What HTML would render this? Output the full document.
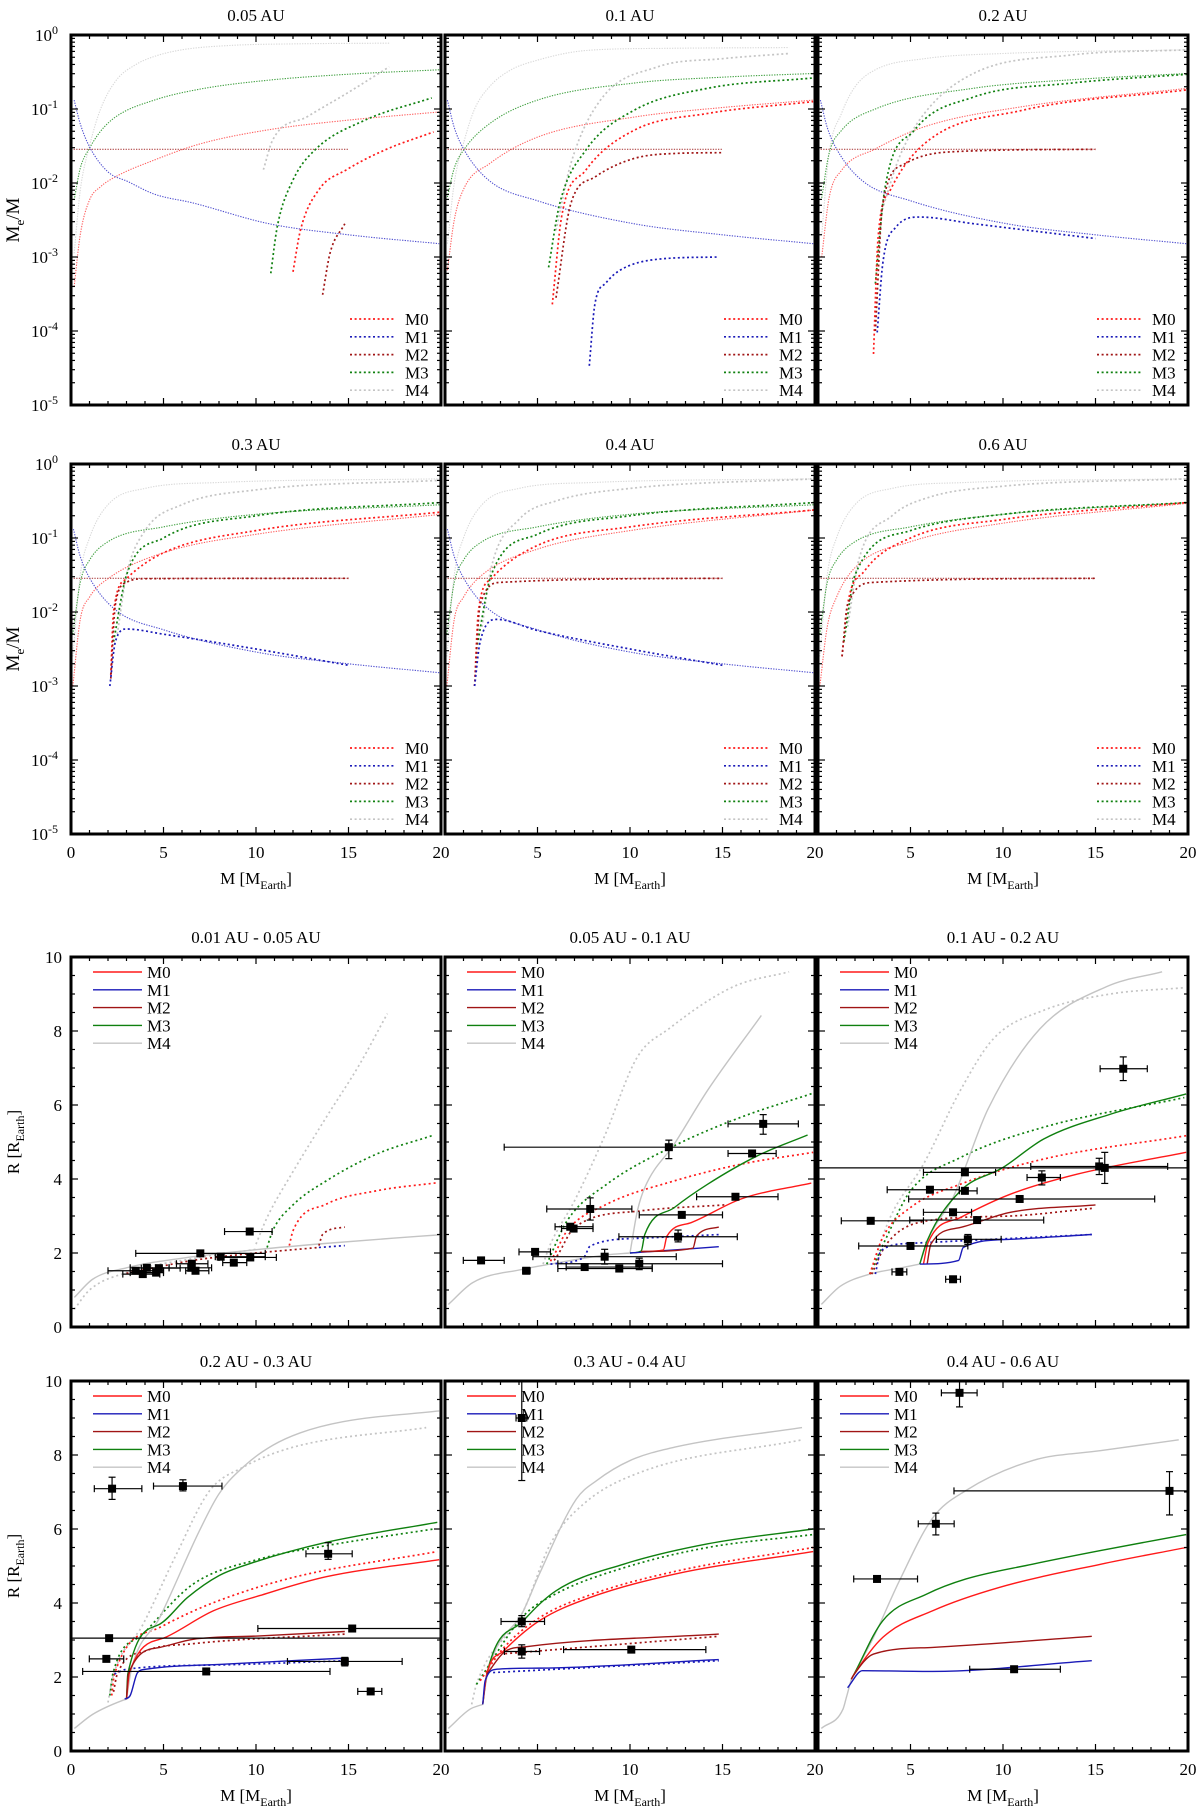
<!DOCTYPE html>
<html><head><meta charset="utf-8">
<style>
html,body{margin:0;padding:0;background:#fff;}
svg{display:block;font-family:"Liberation Serif",serif;}
</style></head>
<body>
<svg id="fig" width="1200" height="1806" viewBox="0 0 1200 1806" xmlns="http://www.w3.org/2000/svg"></svg>
<script>
// ---------- data ----------
const topTitles = ["0.05 AU","0.1 AU","0.2 AU","0.3 AU","0.4 AU","0.6 AU"];
const botTitles = ["0.01 AU - 0.05 AU","0.05 AU - 0.1 AU","0.1 AU - 0.2 AU","0.2 AU - 0.3 AU","0.3 AU - 0.4 AU","0.4 AU -  0.6 AU"];
const models = ["M0","M1","M2","M3","M4"];
const topYTicks = [0,-1,-2,-3,-4,-5];
const botYTicks = [0,2,4,6,8,10];
const xTicks = [0,5,10,15,20];

// top panels: log10(Me/M)
const t0_M4f=[[0.17,-2.95],[0.5,-2.1],[1,-1.5],[1.6,-1.0],[2.45,-0.61],[3.5,-0.4],[4.5,-0.29],[6,-0.2],[8.7,-0.14],[12,-0.12],[17.2,-0.11]];
const t0_M3f=[[0.17,-2.23],[0.5,-1.8],[1,-1.53],[1.6,-1.3],[2.45,-1.1],[4.5,-0.88],[7,-0.73],[10.7,-0.61],[15,-0.53],[19.9,-0.47]];
const t0_M0f=[[0.17,-3.4],[0.5,-2.7],[1,-2.23],[1.6,-2.05],[2.45,-1.91],[4.5,-1.69],[7,-1.47],[10.7,-1.28],[15,-1.15],[19.9,-1.04]];
const t0_M1f=[[0.17,-0.88],[0.5,-1.2],[1,-1.51],[2,-1.85],[3.07,-1.98],[4.5,-2.15],[6.6,-2.27],[10.7,-2.55],[15,-2.7],[19.9,-2.82]];
const t0_M2f=[[0,-1.545],[15,-1.545]];
const t0_M4c=[[10.4,-1.82],[10.9,-1.42],[12.8,-1.1],[14.9,-0.79],[17.2,-0.43]];
const t0_M3c=[[10.8,-3.22],[11.15,-2.59],[12,-1.96],[13.2,-1.55],[15.9,-1.15],[19.5,-0.85]];
const t0_M0c=[[12,-3.2],[12.4,-2.64],[13.4,-2.09],[14.9,-1.82],[17,-1.55],[19.6,-1.31]];
const t0_M2c=[[13.6,-3.51],[14,-2.95],[14.8,-2.55]];

const t1_M4f=[[0.13,-2.82],[0.5,-2.0],[1.05,-1.42],[1.6,-1.0],[2.4,-0.7],[3.5,-0.48],[5,-0.34],[7.6,-0.21],[12,-0.18],[18.6,-0.17]];
const t1_M3f=[[0.13,-2.19],[0.5,-1.8],[1.05,-1.54],[2.4,-1.2],[5,-0.88],[10.2,-0.65],[15,-0.57],[19.9,-0.52]];
const t1_M0f=[[0.13,-3.18],[0.5,-2.5],[1.05,-2.06],[2.4,-1.74],[5,-1.38],[10.2,-1.11],[15,-0.98],[19.9,-0.88]];
const t1_M1f=[[0.13,-0.88],[0.5,-1.25],[1.05,-1.56],[2.4,-1.97],[5,-2.24],[10.2,-2.55],[15,-2.7],[19.9,-2.82]];
const t1_M2f=[[0,-1.545],[15,-1.545]];
const t1_M4c=[[6,-2.64],[6.8,-1.74],[8.4,-0.88],[11.5,-0.43],[15,-0.32],[18.6,-0.25]];
const t1_M3c=[[5.6,-3.14],[6.2,-2.28],[7.6,-1.56],[10.2,-1.02],[14.2,-0.72],[19.9,-0.58]];
const t1_M0c=[[5.8,-3.64],[6.3,-2.46],[7.6,-1.83],[10.2,-1.29],[14.2,-1.06],[19.9,-0.9]];
const t1_M2c=[[6,-3.55],[6.8,-2.28],[8.1,-1.92],[10.2,-1.67],[12.5,-1.6],[15,-1.59]];
const t1_M1c=[[7.8,-4.47],[8.1,-3.64],[8.7,-3.35],[9.45,-3.18],[11.5,-3.03],[14.8,-3.0]];

const t2_M4f=[[0.2,-2.7],[0.6,-1.6],[1.27,-1.06],[2,-0.7],[3.1,-0.47],[5.75,-0.32],[10,-0.25],[20,-0.2]];
const t2_M3f=[[0.2,-2.2],[0.6,-1.6],[1.27,-1.29],[3.1,-1.0],[8.4,-0.72],[14,-0.6],[20,-0.52]];
const t2_M0f=[[0.2,-3.0],[0.6,-2.2],[1.27,-1.83],[3.1,-1.54],[5.75,-1.24],[11,-0.97],[20,-0.72]];
const t2_M1f=[[0.13,-0.88],[0.5,-1.25],[1.05,-1.56],[2.4,-1.97],[5,-2.24],[10.2,-2.55],[15,-2.7],[19.9,-2.82]];
const t2_M2f=[[0,-1.545],[15,-1.545]];
const t2_M0c=[[3,-4.31],[3.25,-2.73],[3.9,-2.1],[5.75,-1.47],[11,-1.02],[20,-0.74]];
const t2_M2c=[[3.1,-4.0],[3.5,-2.28],[4.7,-1.74],[7.1,-1.58],[15,-1.545]];
const t2_M3c=[[3.1,-3.36],[3.6,-2.1],[5.2,-1.29],[8.4,-0.84],[13.7,-0.65],[20,-0.53]];
const t2_M4c=[[3.4,-2.42],[4.4,-1.65],[5.75,-1.06],[8.4,-0.52],[13.7,-0.27],[20,-0.2]];
const t2_M1c=[[3.2,-4.02],[3.5,-3.09],[4.2,-2.6],[5.5,-2.46],[8.4,-2.55],[15,-2.75]];

const t3_M4f=[[0.1,-2.6],[0.5,-1.5],[1,-1.0],[2,-0.55],[4,-0.33],[8,-0.25],[20,-0.2]];
const t3_M3f=[[0.1,-2.3],[0.5,-1.6],[1,-1.3],[2,-1.05],[5,-0.85],[10,-0.68],[20,-0.55]];
const t3_M0f=[[0.1,-3.0],[0.5,-2.1],[1,-1.8],[2,-1.55],[5,-1.2],[10,-0.95],[20,-0.68]];
const t3_M1f=[[0.13,-0.88],[0.5,-1.25],[1.05,-1.56],[2.4,-1.97],[5,-2.24],[10.2,-2.55],[15,-2.7],[19.9,-2.82]];
const t3_M2f=[[0,-1.545],[15,-1.545]];
const t3_M0c=[[2.15,-2.85],[2.3,-2.0],[3,-1.55],[5,-1.2],[10,-0.9],[20,-0.65]];
const t3_M2c=[[2.15,-2.9],[2.4,-1.9],[3,-1.6],[4,-1.55],[15,-1.545]];
const t3_M3c=[[2.3,-2.4],[3,-1.5],[5,-1.0],[10,-0.7],[20,-0.52]];
const t3_M4c=[[2.5,-2.3],[3,-1.5],[4,-0.9],[6,-0.55],[10,-0.35],[20,-0.22]];
const t3_M1c=[[2.1,-3.0],[2.4,-2.4],[3,-2.23],[5,-2.3],[10,-2.5],[15,-2.72]];

const t4_M4f=[[0.1,-2.6],[0.5,-1.5],[1,-1.0],[2,-0.55],[4,-0.33],[8,-0.25],[20,-0.2]];
const t4_M3f=[[0.1,-2.3],[0.5,-1.6],[1,-1.3],[2,-1.05],[5,-0.85],[10,-0.68],[20,-0.55]];
const t4_M0f=[[0.1,-3.0],[0.5,-2.1],[1,-1.8],[2,-1.5],[5,-1.15],[10,-0.9],[20,-0.62]];
const t4_M1f=[[0.13,-0.88],[0.5,-1.25],[1.05,-1.56],[2.4,-1.97],[5,-2.24],[10.2,-2.55],[15,-2.7],[19.9,-2.82]];
const t4_M2f=[[0,-1.545],[15,-1.545]];
const t4_M0c=[[1.6,-3.0],[1.8,-2.0],[2.5,-1.55],[5,-1.1],[10,-0.85],[20,-0.62]];
const t4_M2c=[[1.6,-3.0],[1.9,-1.9],[3,-1.6],[15,-1.545]];
const t4_M3c=[[1.7,-2.5],[2.5,-1.5],[5,-0.95],[10,-0.7],[20,-0.52]];
const t4_M4c=[[2,-2.2],[2.5,-1.4],[4,-0.75],[6,-0.5],[10,-0.33],[20,-0.2]];
const t4_M1c=[[1.6,-3.0],[1.9,-2.4],[2.8,-2.1],[5,-2.25],[10,-2.5],[15,-2.72]];

const t5_M4f=[[0.1,-2.6],[0.5,-1.5],[1,-1.0],[2,-0.55],[4,-0.33],[8,-0.25],[20,-0.2]];
const t5_M3f=[[0.1,-2.3],[0.5,-1.6],[1,-1.3],[2,-1.05],[5,-0.85],[10,-0.68],[20,-0.52]];
const t5_M0f=[[0.1,-3.0],[0.5,-2.2],[1,-1.8],[2,-1.4],[5,-1.05],[10,-0.8],[20,-0.53]];
const t5_M2f=[[0,-1.545],[15,-1.545]];
const t5_M0c=[[1.3,-2.6],[1.6,-1.9],[2.5,-1.45],[5,-1.0],[10,-0.75],[20,-0.52]];
const t5_M2c=[[1.3,-2.6],[1.6,-1.9],[3,-1.6],[15,-1.545]];
const t5_M3c=[[1.4,-2.4],[2,-1.5],[5,-0.9],[10,-0.68],[20,-0.52]];
const t5_M4c=[[1.6,-2.2],[2.2,-1.3],[4,-0.7],[6,-0.45],[10,-0.3],[20,-0.2]];

// bottom panels: R [R_Earth]
const b0_base=[[0.18,0.8],[1.17,1.29],[3,1.6],[6.6,1.9],[10.2,2.1],[13.8,2.26],[17.4,2.4],[19.9,2.49]];
const b0_baseDot=[[0.18,0.48],[1,1.0],[3,1.47],[6.6,1.85],[10,2.1]];
const b0_M4d=[[10,2.24],[10.6,2.96],[12,4.2],[13.8,5.67],[15.6,7.1],[17.1,8.47]];
const b0_M3d=[[10.6,2.15],[10.9,2.6],[12,3.3],[13.8,3.95],[16.5,4.67],[19.5,5.17]];
const b0_M0d=[[11.8,2.2],[12,2.6],[13.8,3.32],[16.5,3.68],[19.8,3.9]];
const b0_M2d=[[13.4,2.2],[13.6,2.5],[14.8,2.7]];
const b0_M1d=[[13.4,2.15],[14.8,2.2]];
const b0_M2dLow=[[3,1.45],[6.6,1.8],[9,1.95],[13.4,2.15]];
const b0_obs=[[9.66,2.58,8.3,10.87],[6.99,1.99,3.5,10.5],[8.09,1.9,7.8,10.5],[9.69,1.88,8.0,11.1],[8.8,1.74,8.2,9.5],[6.53,1.71,5.7,7.4],[6.5,1.6,5.3,7.6],[6.73,1.52,6.2,7.45],[4.1,1.6,3.2,5.3],[4.75,1.59,3.8,5.9],[3.5,1.52,2,5],[3.88,1.43,2.8,4.8],[4.6,1.47,3.2,5.0]];

const b1_base=[[0.18,0.61],[1.5,1.2],[4.2,1.56],[5.7,1.7],[8.75,1.95],[10,2.0]];
const b1_M4s=[[10,2.0],[10.4,3.14],[10.8,3.77],[12.4,4.95],[14.2,6.4],[17.1,8.42]];
const b1_M3s=[[10,2.0],[10.6,2.05],[10.8,2.5],[12.4,3.23],[14.2,3.86],[16.9,4.63],[19.6,5.19]];
const b1_M0s=[[10.6,2.04],[11.8,2.08],[12,2.46],[13.3,2.82],[16,3.46],[19.8,3.89]];
const b1_M2s=[[10.6,2.04],[13.4,2.13],[13.6,2.46],[14.8,2.7]];
const b1_M1s=[[10,2.0],[12,2.07],[14.8,2.17]];
const b1_M4d=[[5.3,1.7],[5.7,2.24],[7,3.41],[8.6,5.13],[10.4,7.3],[12.1,8.06],[15.6,9.2],[18.6,9.6]];
const b1_M3d=[[5.5,1.7],[6.6,2.87],[8.75,3.86],[12.4,4.9],[16,5.67],[19.9,6.32]];
const b1_M0d=[[5.7,1.78],[5.9,1.95],[6.6,2.6],[8.75,3.32],[12.4,3.95],[16,4.4],[19.9,4.72]];
const b1_M2d=[[5.9,1.8],[6.1,1.95],[7,2.69],[10.6,3.14],[15.1,3.3]];
const b1_M1d=[[5.7,1.7],[7.5,1.88],[7.85,2.19],[10.6,2.4],[14.9,2.5]];
const b1_obs=[[1.95,1.8,0.99,3.2],[4.39,1.52,4.2,4.6],[4.87,2.03,4.0,5.7],[6.77,2.71,5.95,8.0],[6.95,2.66,6.3,8.0],[7.85,3.19,5.5,10.1,2.89,3.49],[8.63,1.9,4.75,12.5,1.7,2.1],[7.55,1.62,6.55,11.2],[9.42,1.58,6.1,11.2],[10.5,1.71,6.1,15.0,1.55,1.86],[12.1,4.86,3.2,25,4.55,5.05],[12.8,3.03,10.5,15],[12.6,2.44,9.4,15.8,2.3,2.62],[15.7,3.52,13.6,18],[16.6,4.69,15.3,17.9],[17.2,5.49,15.3,19.1,5.21,5.74]];

const b2_base=[[0.18,0.61],[1.2,1.1],[2.8,1.43],[4.5,1.6],[5.5,1.7]];
const b2_M4s=[[5.5,1.7],[6,2.42],[7.3,3.5],[9.2,5.9],[12,8.06],[15.6,9.2],[18.6,9.6]];
const b2_M3s=[[5.5,1.7],[5.9,2.33],[7.7,3.68],[10,4.31],[12.2,5.08],[15.8,5.75],[19.9,6.3]];
const b2_M0s=[[5.7,1.7],[5.95,2.28],[7.7,2.96],[10.4,3.59],[14,4.13],[19.9,4.72]];
const b2_M2s=[[5.9,1.7],[6.1,2.24],[7.7,2.69],[10.4,3.1],[15,3.3]];
const b2_M1s=[[5.5,1.7],[7.6,1.8],[7.85,2.15],[10.4,2.37],[14.8,2.5]];
const b2_M4d=[[2.8,1.43],[3.9,2.96],[5.7,4.4],[7.7,6.4],[9.5,7.8],[12.2,8.56],[15.8,9.0],[19.8,9.17]];
const b2_M3d=[[2.8,1.43],[3.7,2.42],[5,3.68],[7.7,4.58],[12.2,5.4],[19.8,6.2]];
const b2_M0d=[[2.8,1.43],[3.5,2.42],[5,3.23],[7.7,3.86],[12.2,4.54],[19.9,5.17]];
const b2_M2d=[[2.9,1.43],[3.7,2.24],[5.9,2.87],[10.4,3.0],[14.9,3.21]];
const b2_M1d=[[3.1,1.43],[3.4,2.06],[5,2.26],[8.6,2.35],[14.8,2.5]];
const b2_obs=[[16.5,6.98,15.25,17.8,6.66,7.3],[7.94,4.18,5.7,9.6],[6.05,3.71,3.74,7.64],[7.94,3.68,7.64,8.6],[7.3,3.1,5.7,8.3],[2.85,2.87,1.26,5.7],[8.6,2.89,4.96,12.2],[10.9,3.46,4.9,18.2],[12.1,4.04,11.3,13.1,3.84,4.22],[15.2,4.34,11.5,18.9,4.12,4.56],[15.5,4.3,0,25,3.88,4.72],[8.1,2.37,6.4,9.9,2.23,2.5],[5.0,2.19,2.2,8.1],[4.4,1.49,4.0,4.8],[7.3,1.29,6.9,7.7]];

const b3_base=[[0.18,0.61],[1.17,0.99],[2.8,1.37],[3,1.4]];
const b3_M4s=[[3,1.4],[3.25,2.17],[4.8,3.61],[6.95,5.96],[8,6.95],[9.5,7.76],[10.9,8.26],[12.4,8.6],[14.7,8.9],[19.9,9.19]];
const b3_M3s=[[3,1.4],[3.07,2.08],[4.8,3.43],[6.3,4.15],[8,4.74],[9.7,5.07],[13.8,5.64],[19.8,6.18]];
const b3_M0s=[[3,1.4],[3.16,2.12],[5.1,3.07],[7.7,3.79],[10.2,4.2],[13.8,4.71],[19.9,5.17]];
const b3_M2s=[[3,1.4],[3.1,2.08],[4.8,2.8],[6.6,3.02],[10.2,3.11],[14.8,3.23]];
const b3_M1s=[[2.9,1.4],[3.2,1.5],[3.6,2.12],[4.06,2.21],[8.4,2.35],[14.8,2.51]];
const b3_M4d=[[2,1.31],[2.26,1.99],[3.9,3.43],[5.7,5.32],[7.5,7.04],[9.3,7.67],[12,8.21],[19.2,8.74]];
const b3_M3d=[[2.1,1.5],[2.26,2.08],[3.9,3.16],[6.6,4.51],[10.2,5.19],[13.8,5.55],[19.6,6.0]];
const b3_M0d=[[2.2,1.5],[2.35,2.08],[4.8,3.34],[7.5,3.97],[12,4.69],[19.8,5.39]];
const b3_M2d=[[2.3,1.6],[2.5,2.08],[4.06,2.71],[6.6,2.9],[14.8,3.16]];
const b3_M1d=[[2.35,2.08],[3,2.21],[8.4,2.33],[14.8,2.44]];
const b3_obs=[[2.22,7.09,1.26,3.83,6.8,7.4],[6.05,7.16,4.46,8.16,7.03,7.33],[13.9,5.33,12.7,15.2,5.18,5.63],[15.2,3.31,10.1,25],[2.06,3.05,0,25],[1.91,2.49,0.99,2.85],[7.31,2.15,0.63,14.0],[14.8,2.42,11.7,17.9,2.3,2.53],[16.2,1.61,15.5,16.8]];

const b4_base=[[0.18,0.61],[1.35,1.13],[2.04,1.26]];
const b4_M4s=[[2.04,1.26],[2.26,1.99],[4.24,3.79],[5.1,4.78],[7.1,6.81],[8.2,7.31],[10,7.85],[12.4,8.21],[19.3,8.74]];
const b4_M3s=[[2.04,1.26],[2.26,2.08],[4.24,3.52],[6,4.33],[9.66,5.05],[14.2,5.6],[19.9,6.0]];
const b4_M0s=[[2.04,1.26],[2.26,2.08],[3.16,2.7],[5.1,3.52],[7.85,4.15],[12.4,4.78],[19.9,5.39]];
const b4_M2s=[[2.26,2.08],[3.25,2.69],[4.4,2.82],[14.8,3.16]];
const b4_M1s=[[2.04,1.26],[2.17,1.9],[2.8,2.21],[5.1,2.24],[14.8,2.47]];
const b4_M4d=[[1.44,1.26],[1.7,1.8],[4.24,3.79],[5.7,5.6],[7.5,6.68],[10.6,7.54],[19.3,8.41]];
const b4_M3d=[[1.7,1.8],[4.24,3.65],[6,4.25],[9.66,4.95],[14.2,5.5],[19.9,5.85]];
const b4_M0d=[[1.9,1.9],[3.16,2.78],[5.1,3.6],[7.85,4.22],[12.4,4.85],[19.9,5.5]];
const b4_M2d=[[3.25,2.63],[14.8,3.1]];
const b4_M1d=[[2.6,2.12],[14.8,2.44]];
const b4_obs=[[4.15,9.0,3.84,4.42,7.31,10.5],[4.15,3.5,3.03,5.38,3.36,3.66],[4.15,2.69,3.21,5.11,2.51,2.87],[10.07,2.74,6.41,14.1]];

const b5_base=[[0.18,0.61],[1.35,1.13],[1.53,1.44],[1.8,1.94]];
const b5_M4s=[[1.8,1.94],[3,3.07],[4.4,4.6],[6.2,6.3],[8,7.04],[11.6,7.85],[15.3,8.12],[19.5,8.41]];
const b5_M3s=[[1.8,1.94],[1.9,2.03],[3.5,3.52],[5.87,4.24],[8,4.65],[11.6,5.05],[15.3,5.42],[19.9,5.85]];
const b5_M0s=[[1.8,1.94],[1.9,2.03],[3.5,3.07],[6.2,3.79],[9.8,4.42],[15.3,5.05],[19.9,5.5]];
const b5_M2s=[[1.8,1.94],[1.9,2.03],[3,2.62],[6.2,2.8],[14.8,3.1]];
const b5_M1s=[[1.6,1.71],[2.4,2.17],[6.2,2.15],[14.8,2.44]];
const b5_obs=[[7.65,9.68,6.67,8.6,9.3,10.0],[19.0,7.03,7.35,25,6.38,7.55],[6.37,6.14,5.42,7.36,5.84,6.43],[3.19,4.65,1.93,5.38],[10.6,2.21,8.2,13.1]];

// ---------- rendering ----------
const svg=document.getElementById('fig');
const NS='http://www.w3.org/2000/svg';
const colL=[71,445,818], rowT=[35,464,957,1381], PW=370, PH=370;
const COL={M0:'#ff1a1a',M1:'#1a1ab8',M2:'#a01515',M3:'#0f800f',M4:'#c4c4c4'};
const COLF={M0:'#ff6060',M1:'#5050d0',M2:'#b04848',M3:'#40a040',M4:'#d8d8d8'};

function mk(tag,attrs,parent){const e=document.createElementNS(NS,tag);for(const k in attrs)e.setAttribute(k,attrs[k]);(parent||svg).appendChild(e);return e;}
function txt(s,x,y,size,anchor,parent){const e=mk('text',{x:x,y:y,'font-size':size,'text-anchor':anchor||'middle',fill:'#000'},parent);e.textContent=s;return e;}
// monotone cubic (Fritsch-Carlson) in pixel space
function smooth(p){
 const n=p.length;const f=v=>v.toFixed(2);
 let d='M'+f(p[0][0])+','+f(p[0][1]);
 if(n<3){for(let i=1;i<n;i++)d+='L'+f(p[i][0])+','+f(p[i][1]);return d;}
 const dx=[],m=[];
 for(let i=0;i<n-1;i++){dx[i]=p[i+1][0]-p[i][0];m[i]=dx[i]>0.01?(p[i+1][1]-p[i][1])/dx[i]:0;}
 const t=[];t[0]=m[0];t[n-1]=m[n-2];
 for(let i=1;i<n-1;i++){t[i]=(m[i-1]*m[i]<=0)?0:(m[i-1]+m[i])/2;}
 for(let i=0;i<n-1;i++){if(m[i]===0){t[i]=0;t[i+1]=0;continue;}
  const a=t[i]/m[i],b=t[i+1]/m[i],s=a*a+b*b;if(s>9){const k=3/Math.sqrt(s);t[i]=k*a*m[i];t[i+1]=k*b*m[i];}}
 for(let i=0;i<n-1;i++){
  if(dx[i]<=0.01){d+='L'+f(p[i+1][0])+','+f(p[i+1][1]);continue;}
  const h=dx[i]/3;
  d+='C'+f(p[i][0]+h)+','+f(p[i][1]+t[i]*h)+' '+f(p[i+1][0]-h)+','+f(p[i+1][1]-t[i+1]*h)+' '+f(p[i+1][0])+','+f(p[i+1][1]);}
 return d;}

function makePanel(idx,kind){
 const c=idx%3, r=kind==='top'?Math.floor(idx/3):2+Math.floor(idx/3);
 const L=colL[c],T=rowT[r];
 const g=mk('g',{});
 
 
 const xs=x=>L+x/20*PW;
 const ys=kind==='top'?(v=>T+(-v)/5*PH):(v=>T+PH-v/10*PH);
 const cid='clip-'+kind+idx;
 const cp=mk('clipPath',{id:cid},g);mk('rect',{x:L,y:T,width:PW,height:PH},cp);
 const plot=mk('g',{'clip-path':'url(#'+cid+')'},g);
 
 
 const tt=txt(kind==='top'?topTitles[idx]:botTitles[idx],L+PW/2,T-14,17,'middle',g);
 
 
 const tk=mk('g',{stroke:'#000','stroke-width':1.2},g);
 
 
 for(let v=0;v<=20;v++){const X=xs(v),len=v%5===0?7:4;
  mk('line',{x1:X,y1:T+PH,x2:X,y2:T+PH-len},tk);mk('line',{x1:X,y1:T,x2:X,y2:T+len},tk);}
 if(kind==='top'){for(let d=0;d>-5;d--){for(let k=1;k<=9;k++){const v=d-1+Math.log10(k);const Y=ys(v);const len=k===1?7:4;
   mk('line',{x1:L,y1:Y,x2:L+len,y2:Y},tk);mk('line',{x1:L+PW,y1:Y,x2:L+PW-len,y2:Y},tk);}}}
 else{for(let v=0;v<=10;v+=0.5){const Y=ys(v),len=v%2===0?7:4;
   mk('line',{x1:L,y1:Y,x2:L+len,y2:Y},tk);mk('line',{x1:L+PW,y1:Y,x2:L+PW-len,y2:Y},tk);}}
 if(c===0){
  if(kind==='top'){topYTicks.forEach(v=>{const e=txt('10',L-13,ys(v)+6,17,'end',g);
    const s=document.createElementNS(NS,'tspan');s.setAttribute('dy','-7');s.setAttribute('font-size','12');s.textContent=String(v);e.appendChild(s);
    
    });
   const yt=mk('text',{x:0,y:0,'font-size':19,'text-anchor':'middle',transform:'translate(19,'+(T+PH/2)+') rotate(-90)'},g);
   yt.innerHTML='M<tspan dy="5" font-size="13">e</tspan><tspan dy="-5">/M</tspan>';
   
   
  } else {botYTicks.forEach(v=>{const e=txt(String(v),L-9,ys(v)+6,17,'end',g);
    
    });
   const yt=mk('text',{x:0,y:0,'font-size':17,'text-anchor':'middle',transform:'translate(19,'+(T+PH/2)+') rotate(-90)'},g);
   yt.innerHTML='R [R<tspan dy="5" font-size="12">Earth</tspan><tspan dy="-5">]</tspan>';
   
   }
 }
 if(r===1||r===3){xTicks.forEach(v=>{if(v===0&&c>0)return;const e=txt(String(v),xs(v),T+PH+24,17,'middle',g);
   
   });
  const xt=mk('text',{x:L+PW/2,y:T+PH+50,'font-size':17,'text-anchor':'middle'},g);
  xt.innerHTML='M [M<tspan dy="5" font-size="12">Earth</tspan><tspan dy="-5">]</tspan>';
  
  }
 return {g,plot,xs,ys,L,T};
}

function drawLine(P,pts,color,style,name){
 const px=pts.map(p=>[P.xs(p[0]),P.ys(p[1])]);
 const a={d:smooth(px),fill:'none',stroke:color};
 if(style==='fine'){a['stroke-width']=1.1;a['stroke-dasharray']='1.3 1.3';}
 else if(style==='coarse'){a['stroke-width']=1.7;a['stroke-dasharray']='2 2.6';}
 else if(style==='dot'){a['stroke-width']=1.7;a['stroke-dasharray']='2 3';}
 else {a['stroke-width']=1.4;}
 const e=mk('path',a,P.plot);
 
 
}
function drawObs(P,obs){
 obs.forEach(o=>{const gg=mk('g',{stroke:'#000','stroke-width':1.2},P.plot);
  
  
  const X=P.xs(o[0]),Y=P.ys(o[1]);
  const x1=P.xs(o[2]),x2=P.xs(o[3]);
  mk('line',{x1:x1,y1:Y,x2:x2,y2:Y},gg);
  mk('line',{x1:x1,y1:Y-3.5,x2:x1,y2:Y+3.5},gg);mk('line',{x1:x2,y1:Y-3.5,x2:x2,y2:Y+3.5},gg);
  if(o.length>4){const y1=P.ys(o[4]),y2=P.ys(o[5]);
   mk('line',{x1:X,y1:y1,x2:X,y2:y2},gg);mk('line',{x1:X-3.5,y1:y1,x2:X+3.5,y2:y1},gg);mk('line',{x1:X-3.5,y1:y2,x2:X+3.5,y2:y2},gg);}
  mk('rect',{x:X-4,y:Y-4,width:8,height:8,fill:'#000',stroke:'none'},gg);});
}
function legend(P,kind){
 const lg=mk('g',{},P.g);
 
 
 models.forEach((m,i)=>{
  let x1,x2,tx,y;
  if(kind==='top'){x1=P.L+PW-91;x2=P.L+PW-45;tx=P.L+PW-36;y=P.T+284+i*17.8;}
  else{x1=P.L+22;x2=P.L+71;tx=P.L+76;y=P.T+15+i*17.8;}
  const e=mk('g',{},lg);
  
  
  const a={x1:x1,y1:y,x2:x2,y2:y,stroke:COL[m],'stroke-width':kind==='top'?1.7:1.4};
  if(kind==='top')a['stroke-dasharray']='2 2.6';
  mk('line',a,e);
  txt(m,tx,y+6,17,'start',e);
 });
}
function frame(P){const f=mk('rect',{x:P.L,y:P.T,width:PW,height:PH,fill:'none',stroke:'#000','stroke-width':3},P.g);
 
 }

const topSeries=[
 [['M4',t0_M4f,'fine'],['M3',t0_M3f,'fine'],['M0',t0_M0f,'fine'],['M1',t0_M1f,'fine'],['M2',t0_M2f,'fine'],['M4',t0_M4c,'coarse'],['M3',t0_M3c,'coarse'],['M0',t0_M0c,'coarse'],['M2',t0_M2c,'coarse']],
 [['M4',t1_M4f,'fine'],['M3',t1_M3f,'fine'],['M0',t1_M0f,'fine'],['M1',t1_M1f,'fine'],['M2',t1_M2f,'fine'],['M4',t1_M4c,'coarse'],['M3',t1_M3c,'coarse'],['M0',t1_M0c,'coarse'],['M2',t1_M2c,'coarse'],['M1',t1_M1c,'coarse']],
 [['M4',t2_M4f,'fine'],['M3',t2_M3f,'fine'],['M0',t2_M0f,'fine'],['M1',t2_M1f,'fine'],['M2',t2_M2f,'fine'],['M4',t2_M4c,'coarse'],['M3',t2_M3c,'coarse'],['M0',t2_M0c,'coarse'],['M2',t2_M2c,'coarse'],['M1',t2_M1c,'coarse']],
 [['M4',t3_M4f,'fine'],['M3',t3_M3f,'fine'],['M0',t3_M0f,'fine'],['M1',t3_M1f,'fine'],['M2',t3_M2f,'fine'],['M4',t3_M4c,'coarse'],['M3',t3_M3c,'coarse'],['M0',t3_M0c,'coarse'],['M2',t3_M2c,'coarse'],['M1',t3_M1c,'coarse']],
 [['M4',t4_M4f,'fine'],['M3',t4_M3f,'fine'],['M0',t4_M0f,'fine'],['M1',t4_M1f,'fine'],['M2',t4_M2f,'fine'],['M4',t4_M4c,'coarse'],['M3',t4_M3c,'coarse'],['M0',t4_M0c,'coarse'],['M2',t4_M2c,'coarse'],['M1',t4_M1c,'coarse']],
 [['M4',t5_M4f,'fine'],['M3',t5_M3f,'fine'],['M0',t5_M0f,'fine'],['M2',t5_M2f,'fine'],['M4',t5_M4c,'coarse'],['M3',t5_M3c,'coarse'],['M0',t5_M0c,'coarse'],['M2',t5_M2c,'coarse']]
];
topSeries.forEach((list,i)=>{const P=makePanel(i,'top');
 list.forEach(s=>drawLine(P,s[1],s[2]==='fine'?COLF[s[0]]:COL[s[0]],s[2],'curve-'+s[0].toLowerCase()+'-'+s[2]));
 legend(P,'top');frame(P);});

const botSeries=[
 [['M4',b0_base,'solid'],['M4',b0_baseDot,'dot'],['M2',b0_M2dLow,'dot'],['M4',b0_M4d,'dot'],['M3',b0_M3d,'dot'],['M0',b0_M0d,'dot'],['M2',b0_M2d,'dot'],['M1',b0_M1d,'dot']],
 [['M4',b1_base,'solid'],['M4',b1_M4d,'dot'],['M3',b1_M3d,'dot'],['M0',b1_M0d,'dot'],['M2',b1_M2d,'dot'],['M1',b1_M1d,'dot'],['M4',b1_M4s,'solid'],['M3',b1_M3s,'solid'],['M1',b1_M1s,'solid'],['M0',b1_M0s,'solid'],['M2',b1_M2s,'solid']],
 [['M4',b2_base,'solid'],['M4',b2_M4d,'dot'],['M3',b2_M3d,'dot'],['M0',b2_M0d,'dot'],['M2',b2_M2d,'dot'],['M1',b2_M1d,'dot'],['M4',b2_M4s,'solid'],['M3',b2_M3s,'solid'],['M0',b2_M0s,'solid'],['M2',b2_M2s,'solid'],['M1',b2_M1s,'solid']],
 [['M4',b3_base,'solid'],['M4',b3_M4d,'dot'],['M3',b3_M3d,'dot'],['M0',b3_M0d,'dot'],['M2',b3_M2d,'dot'],['M1',b3_M1d,'dot'],['M4',b3_M4s,'solid'],['M3',b3_M3s,'solid'],['M0',b3_M0s,'solid'],['M2',b3_M2s,'solid'],['M1',b3_M1s,'solid']],
 [['M4',b4_base,'solid'],['M4',b4_M4d,'dot'],['M3',b4_M3d,'dot'],['M0',b4_M0d,'dot'],['M2',b4_M2d,'dot'],['M1',b4_M1d,'dot'],['M4',b4_M4s,'solid'],['M3',b4_M3s,'solid'],['M0',b4_M0s,'solid'],['M2',b4_M2s,'solid'],['M1',b4_M1s,'solid']],
 [['M4',b5_base,'solid'],['M4',b5_M4s,'solid'],['M3',b5_M3s,'solid'],['M0',b5_M0s,'solid'],['M2',b5_M2s,'solid'],['M1',b5_M1s,'solid']]
];
const botObs=[b0_obs,b1_obs,b2_obs,b3_obs,b4_obs,b5_obs];
botSeries.forEach((list,i)=>{const P=makePanel(i,'bot');
 list.forEach(s=>drawLine(P,s[1],COL[s[0]],s[2],'curve-'+s[0].toLowerCase()+'-'+s[2]));
 drawObs(P,botObs[i]);
 legend(P,'bot');frame(P);});
</script>
</body></html>
